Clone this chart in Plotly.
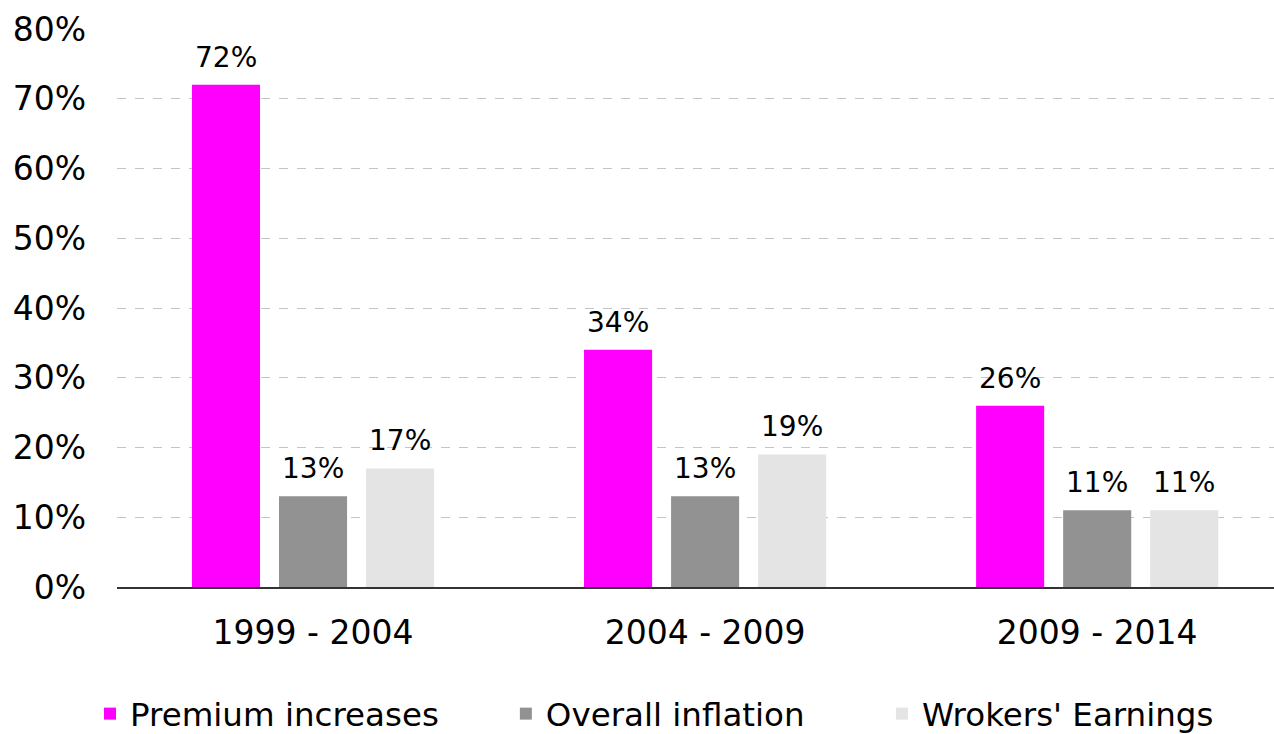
import plotly.graph_objects as go

categories = ["1999 - 2004", "2004 - 2009", "2009 - 2014"]
premium = [72, 34, 26]
inflation = [13, 13, 11]
earnings = [17, 19, 11]
series_names = ["Premium increases", "Overall inflation", "Wrokers' Earnings"]
colors = ["#FF00FF", "#929292", "#E4E4E4"]
tick_vals = [0, 10, 20, 30, 40, 50, 60, 70, 80]
tick_text = [f"{v}%" for v in tick_vals]

FONT = "DejaVu Sans, Verdana, sans-serif"
W, H = 1274, 734
ML, MR, MT, MB = 117, 0, 29, 147
BARGAP, GROUPGAP = 0.334, 0.218
XRANGE = [-0.5, 2.451]
LEGEND_PAD = ["\u00a0" * 6, "\u00a0" * 7, ""]

fig = go.Figure()
all_series = [premium, inflation, earnings]
for name, vals, col, pad in zip(series_names, all_series, colors, LEGEND_PAD):
    fig.add_trace(go.Bar(
        x=categories, y=vals, name=name + pad,
        marker_color=col, marker_line_width=0,
    ))

# data labels above bars
cat_px = (W - ML - MR) / (XRANGE[1] - XRANGE[0])
slot_px = cat_px * (1 - BARGAP) / len(all_series)
annotations = []
for k, vals in enumerate(all_series):
    for cat, v in zip(categories, vals):
        annotations.append(dict(
            x=cat, y=v, xref="x", yref="y", text=f"{v}%", showarrow=False,
            xanchor="center", yanchor="bottom",
            xshift=(k - (len(all_series) - 1) / 2) * slot_px, yshift=9,
            font=dict(size=28, color="#000000", family=FONT),
        ))

fig.update_layout(
    width=W, height=H,
    margin=dict(l=ML, r=MR, t=MT, b=MB, autoexpand=False),
    paper_bgcolor="white", plot_bgcolor="white",
    barmode="group", bargap=BARGAP, bargroupgap=GROUPGAP,
    font=dict(family=FONT, color="#000000"),
    legend=dict(orientation="h", xref="container", yref="container",
                yanchor="middle", xanchor="left", x=90 / W, y=(H - 714) / H,
                font=dict(size=32.5, color="#000000", family=FONT),
                bgcolor="rgba(0,0,0,0)", itemwidth=30, tracegroupgap=0),
    annotations=annotations,
)
fig.update_xaxes(
    range=XRANGE, showgrid=False, showline=True, linecolor="#333333",
    linewidth=1.5, ticks="", automargin=False,
    tickfont=dict(size=33, family=FONT, color="#000000"),
    ticklabelstandoff=16,
)
fig.update_yaxes(
    range=[0, 80], tickvals=tick_vals, ticktext=tick_text,
    showgrid=True, gridcolor="#C4C4C4", griddash="dash", gridwidth=1,
    zeroline=False, showline=False, ticks="", automargin=False,
    tickfont=dict(size=33, family=FONT, color="#000000"),
    ticklabelstandoff=30,
)

fig.write_html(
    "out.html",
    config={"displayModeBar": False},
    post_script="document.body.style.margin='0';document.body.style.overflow='hidden';",
)
